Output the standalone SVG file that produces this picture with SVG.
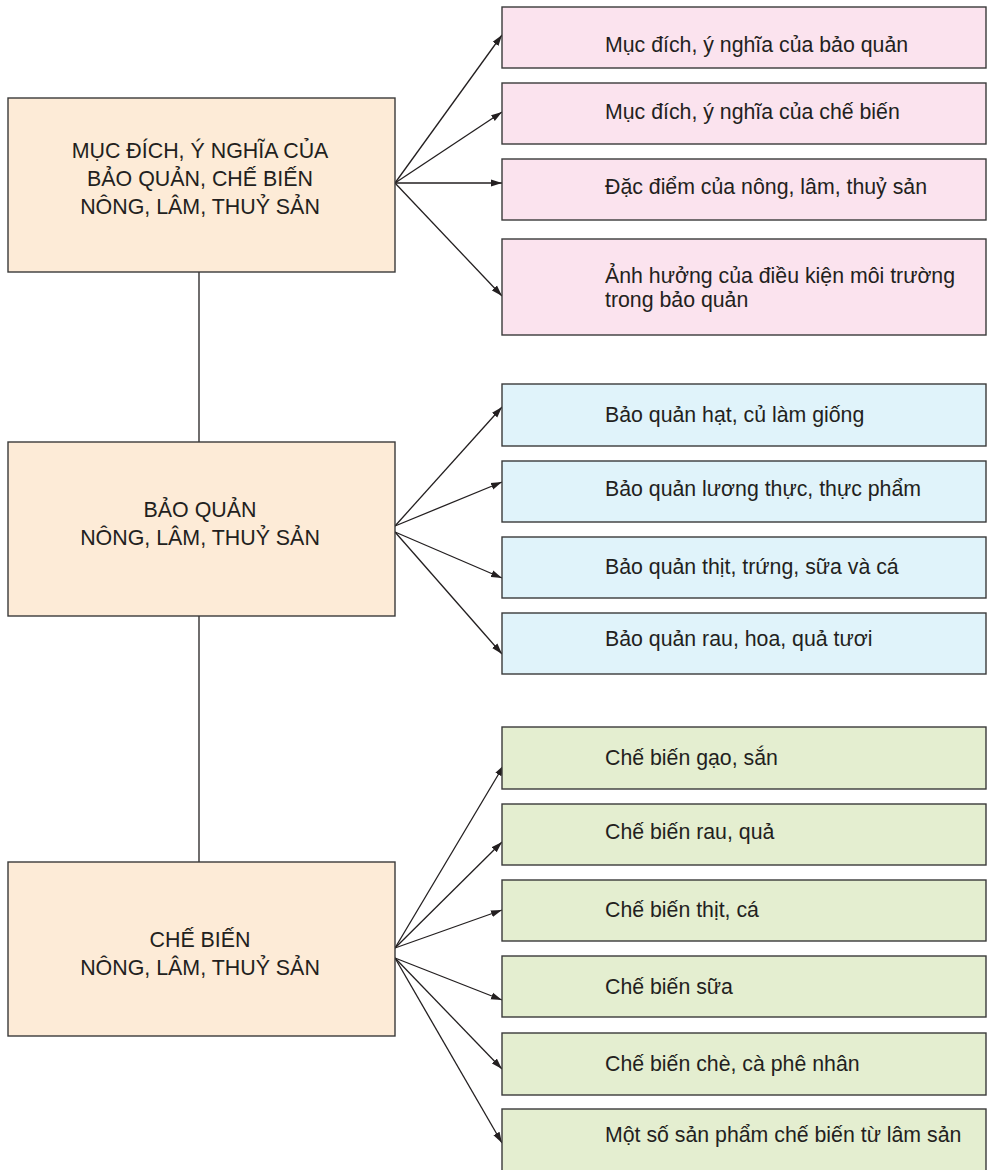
<svg xmlns="http://www.w3.org/2000/svg" width="990" height="1170" viewBox="0 0 990 1170">
<style>
.main{fill:#fdebd7;stroke:#3a3a3a;stroke-width:1.4}
.pink{fill:#fbe3ee;stroke:#3a3a3a;stroke-width:1.4}
.blue{fill:#e0f3fa;stroke:#3a3a3a;stroke-width:1.4}
.green{fill:#e4eed0;stroke:#3a3a3a;stroke-width:1.4}
.mt{font-family:"Liberation Sans",Arial,sans-serif;font-size:21.4px;fill:#231f20;text-anchor:middle}
.st{font-family:"Liberation Sans",Arial,sans-serif;font-size:21.3px;fill:#231f20}
.ln{stroke:#231f20;stroke-width:1.3;fill:none}
.ar{stroke:#231f20;stroke-width:1.3;fill:none;marker-end:url(#ah)}
</style>
<defs>
<marker id="ah" markerUnits="userSpaceOnUse" markerWidth="12" markerHeight="8" refX="11" refY="4" orient="auto">
<path d="M0,0.5 L11,4 L0,7.5 z" fill="#231f20"/>
</marker>
</defs>
<rect width="990" height="1170" fill="#ffffff"/>
<g id="connectors">
<line class="ln" x1="199" y1="272" x2="199" y2="442"/>
<line class="ln" x1="199" y1="616" x2="199" y2="862"/>
<line class="ar" x1="395" y1="183" x2="502" y2="35"/>
<line class="ar" x1="395" y1="183" x2="502" y2="112"/>
<line class="ar" x1="395" y1="183" x2="502" y2="183"/>
<line class="ar" x1="395" y1="183" x2="502" y2="296"/>
<line class="ar" x1="395" y1="526" x2="502" y2="407"/>
<line class="ar" x1="395" y1="526" x2="502" y2="482"/>
<line class="ar" x1="395" y1="532" x2="502" y2="578"/>
<line class="ar" x1="395" y1="532" x2="502" y2="654"/>
<line class="ar" x1="395" y1="948" x2="504" y2="765"/>
<line class="ar" x1="395" y1="948" x2="502" y2="842"/>
<line class="ar" x1="395" y1="948" x2="502" y2="910"/>
<line class="ar" x1="395" y1="958" x2="502" y2="1000"/>
<line class="ar" x1="395" y1="958" x2="502" y2="1069"/>
<line class="ar" x1="395" y1="958" x2="502" y2="1143"/>
</g>
<g id="n-mucdich">
<rect class="main" x="8" y="98" width="387" height="174"/>
<text class="mt" x="200" y="158">MỤC ĐÍCH, Ý NGHĨA CỦA</text>
<text class="mt" x="200" y="186">BẢO QUẢN, CHẾ BIẾN</text>
<text class="mt" x="200" y="214">NÔNG, LÂM, THUỶ SẢN</text>
</g>
<g id="n-baoquan">
<rect class="main" x="8" y="442" width="387" height="174"/>
<text class="mt" x="200" y="517">BẢO QUẢN</text>
<text class="mt" x="200" y="545">NÔNG, LÂM, THUỶ SẢN</text>
</g>
<g id="n-chebien">
<rect class="main" x="8" y="862" width="387" height="174"/>
<text class="mt" x="200" y="947">CHẾ BIẾN</text>
<text class="mt" x="200" y="975">NÔNG, LÂM, THUỶ SẢN</text>
</g>
<g id="p1"><rect class="pink" x="502" y="7" width="484" height="61"/><text class="st" x="605" y="52">Mục đích, ý nghĩa của bảo quản</text></g>
<g id="p2"><rect class="pink" x="502" y="83" width="484" height="61"/><text class="st" x="605" y="119">Mục đích, ý nghĩa của chế biến</text></g>
<g id="p3"><rect class="pink" x="502" y="159" width="484" height="61"/><text class="st" x="605" y="194">Đặc điểm của nông, lâm, thuỷ sản</text></g>
<g id="p4"><rect class="pink" x="502" y="239" width="484" height="96"/><text class="st" x="605" y="283">Ảnh hưởng của điều kiện môi trường</text><text class="st" x="605" y="307">trong bảo quản</text></g>
<g id="b1"><rect class="blue" x="502" y="384" width="484" height="62"/><text class="st" x="605" y="422">Bảo quản hạt, củ làm giống</text></g>
<g id="b2"><rect class="blue" x="502" y="461" width="484" height="61"/><text class="st" x="605" y="496">Bảo quản lương thực, thực phẩm</text></g>
<g id="b3"><rect class="blue" x="502" y="537" width="484" height="61"/><text class="st" x="605" y="574">Bảo quản thịt, trứng, sữa và cá</text></g>
<g id="b4"><rect class="blue" x="502" y="613" width="484" height="61"/><text class="st" x="605" y="646">Bảo quản rau, hoa, quả tươi</text></g>
<g id="g1"><rect class="green" x="502" y="727" width="484" height="62"/><text class="st" x="605" y="765">Chế biến gạo, sắn</text></g>
<g id="g2"><rect class="green" x="502" y="804" width="484" height="61"/><text class="st" x="605" y="839">Chế biến rau, quả</text></g>
<g id="g3"><rect class="green" x="502" y="880" width="484" height="61"/><text class="st" x="605" y="917">Chế biến thịt, cá</text></g>
<g id="g4"><rect class="green" x="502" y="956" width="484" height="61"/><text class="st" x="605" y="994">Chế biến sữa</text></g>
<g id="g5"><rect class="green" x="502" y="1033" width="484" height="62"/><text class="st" x="605" y="1071">Chế biến chè, cà phê nhân</text></g>
<g id="g6"><rect class="green" x="502" y="1109" width="484" height="70"/><text class="st" x="605" y="1142">Một số sản phẩm chế biến từ lâm sản</text></g>
</svg>
